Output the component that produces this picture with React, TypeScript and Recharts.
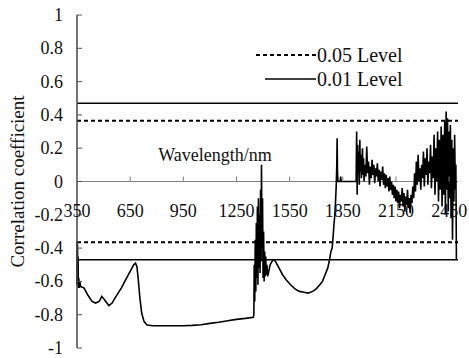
import { LineChart, Line, XAxis, YAxis, ReferenceLine, Legend, Label } from "recharts";

// wavelength (nm) and correlation coefficient
const wavelengths = [
  350, 351, 352, 353, 354, 356, 358, 360, 363, 366, 370,
  390, 410, 435, 455, 475, 490, 505, 530, 548, 570, 600, 625, 650, 670, 680, 688, 695, 705, 715, 728, 745,
  780, 850, 950, 1000, 1050, 1100, 1150, 1200, 1250, 1300, 1345,
  1348, 1350, 1353, 1356, 1359, 1362, 1365, 1368, 1371, 1374, 1377, 1380, 1383, 1386, 1389, 1391, 1394,
  1397, 1400, 1403, 1406, 1409, 1412, 1415, 1418, 1422, 1426,
  1430, 1440, 1450, 1460, 1470, 1480, 1495, 1510, 1530, 1555, 1580, 1605, 1630, 1655, 1680, 1700, 1720,
  1735, 1750, 1765, 1775, 1783, 1790, 1796, 1800, 1805, 1809, 1813, 1816, 1818, 1820, 1823, 1835, 1838,
  1841, 1925,
  1928, 1931, 1934, 1937, 1940, 1943, 1946, 1949, 1952, 1955, 1958, 1961, 1964, 1967, 1970, 1975, 1980,
  1985, 1990, 1995, 2000, 2005, 2010, 2015, 2020, 2025, 2030, 2035, 2040, 2045, 2050, 2055, 2060, 2065,
  2070, 2075, 2080, 2085, 2090, 2095, 2100, 2105, 2110, 2115, 2120, 2125, 2130, 2135, 2140, 2145, 2150,
  2155, 2160, 2165, 2170, 2175, 2180, 2185, 2190, 2195, 2200, 2205, 2210, 2215, 2220, 2225, 2230, 2235,
  2240, 2245, 2250, 2255, 2260, 2265, 2270, 2275, 2280, 2285, 2290, 2295, 2300, 2305, 2310, 2315, 2320,
  2325, 2330, 2335, 2340, 2345, 2350, 2355, 2360, 2365, 2370, 2375, 2380, 2385, 2390, 2395, 2400, 2405,
  2410, 2415, 2420, 2425, 2429, 2433, 2437, 2441, 2445, 2449, 2453, 2457, 2461, 2465, 2469, 2473, 2477,
  2481, 2485, 2488, 2491,
];

const correlation = [
  -0.62, -0.36, -0.6, -0.38, -0.62, -0.45, -0.64, -0.58, -0.64, -0.6, -0.63,
  -0.64, -0.68, -0.72, -0.73, -0.72, -0.69, -0.71, -0.745, -0.73, -0.69, -0.64, -0.59, -0.54, -0.5, -0.49,
  -0.51, -0.58, -0.7, -0.79, -0.84, -0.862,
  -0.866, -0.866, -0.866, -0.864, -0.86, -0.852, -0.845, -0.836, -0.828, -0.822, -0.815,
  -0.8, -0.5, -0.72, -0.35, -0.66, -0.25, -0.58, -0.15, -0.62, -0.1, -0.52, -0.2, -0.55, -0.05, -0.48, 0.1,
  -0.4, -0.1, -0.58, -0.3, -0.6, -0.42, -0.57, -0.45, -0.56, -0.5, -0.57,
  -0.55, -0.5, -0.48, -0.47, -0.48, -0.5, -0.53, -0.56, -0.59, -0.62, -0.645, -0.66, -0.665, -0.67, -0.66,
  -0.645, -0.62, -0.6, -0.56, -0.52, -0.47, -0.42, -0.4, -0.32, -0.26, -0.2, -0.12, -0.02, 0.1, 0.26, 0.05,
  0, 0, 0.03, 0, 0,
  0.3, -0.08, 0.22, 0.05, 0.18, -0.02, 0.25, 0.06, 0.16, 0.02, 0.12, 0.2, 0.04, 0.14, 0, 0.1, 0.03,
  0.21, 0.05, 0.12, -0.02, 0.09, 0.02, 0.13, 0.04, 0.1, -0.01, 0.08, 0.03, 0.11, 0, 0.07, -0.03, 0.06,
  0.01, 0.09, -0.02, 0.05, -0.04, 0.04, -0.03, 0.02, -0.06, 0.03, -0.05, 0, -0.08, -0.02, -0.1, -0.03, -0.12,
  -0.05, -0.13, -0.06, -0.16, -0.08, -0.12, -0.04, -0.15, -0.07, -0.18, -0.09, -0.14, -0.05, -0.16, -0.1, -0.19, -0.08,
  -0.13, -0.03, -0.1, 0.05, -0.06, 0.12, -0.02, 0.16, 0, 0.08, -0.05, 0.1, 0.02, 0.18, -0.03, 0.14, 0.04,
  0.2, -0.02, 0.12, 0.05, 0.22, -0.04, 0.15, 0.02, 0.28, -0.08, 0.2, 0, 0.3, -0.12, 0.25, -0.05, 0.33,
  -0.15, 0.28, -0.08, 0.36, -0.2, 0.42, -0.05, 0.38, -0.18, 0.3, -0.1, 0.34, -0.22, 0.25, -0.35, 0.2, -0.12,
  0.28, -0.05, 0.1, -0.47,
];

const xTicks = [350, 650, 950, 1250, 1550, 1850, 2150, 2450];
const yTicks = [-1, -0.8, -0.6, -0.4, -0.2, 0, 0.2, 0.4, 0.6, 0.8, 1];
const level05 = 0.365;
const level01 = 0.47;
const legendItems = [
  { name: "0.05 Level", dashed: true },
  { name: "0.01 Level", dashed: false },
];

const data = wavelengths.map((w, i) => ({ wavelength: w, r: correlation[i] }));

const W = 469;
const H = 358;
const MARGIN = { top: 15, right: 11, bottom: 9, left: 0 };
const X_AXIS_H = 1;
const Y_AXIS_W = 77;
const PLOT_LEFT = MARGIN.left + Y_AXIS_W;
const PLOT_H = H - MARGIN.top - MARGIN.bottom - X_AXIS_H;
const ZERO_Y = MARGIN.top + PLOT_H / 2;
const FONT = "'Liberation Serif', 'Times New Roman', serif";
const INK = "#111";
const textStyle = (size: number) => ({ fontFamily: FONT, fontSize: size, fill: INK });

function XTick(props: any) {
  const { x, payload } = props;
  return (
    <g>
      <line x1={x} x2={x} y1={ZERO_Y} y2={ZERO_Y - 5} stroke="#808080" />
      <text x={x} y={ZERO_Y + 35} textAnchor="middle" style={textStyle(18)}>
        {payload.value}
      </text>
    </g>
  );
}

function YTick(props: any) {
  const { y, payload } = props;
  return (
    <g>
      <line x1={PLOT_LEFT} x2={PLOT_LEFT + 5} y1={y} y2={y} stroke="#555" />
      <text x={PLOT_LEFT - 14} y={y + 6} textAnchor="end" style={textStyle(18)}>
        {String(Number(payload.value.toFixed(1)))}
      </text>
    </g>
  );
}

function LevelLegend() {
  return (
    <svg width={170} height={50}>
      {legendItems.map((item, i) => (
        <g key={item.name}>
          <line
            x1={item.dashed ? 6 : 15}
            x2={66}
            y1={13 + i * 24}
            y2={13 + i * 24}
            stroke="#000"
            strokeWidth={item.dashed ? 2 : 1.5}
            strokeDasharray={item.dashed ? "4 3" : undefined}
          />
          <text x={67} y={20 + i * 24} style={textStyle(20)}>
            {item.name}
          </text>
        </g>
      ))}
    </svg>
  );
}

export default function App() {
  return (
    <div style={{ position: "absolute", left: 0, top: 0, width: W, height: H, background: "#fff" }}>
      <LineChart width={W} height={H} data={data} margin={MARGIN}>
        <XAxis
          dataKey="wavelength"
          type="number"
          domain={[350, 2500]}
          ticks={xTicks}
          height={X_AXIS_H}
          axisLine={false}
          tickLine={false}
          tick={XTick}
          interval={0}
        />
        <YAxis
          type="number"
          domain={[-1, 1]}
          ticks={yTicks}
          width={Y_AXIS_W}
          axisLine={{ stroke: "#444", strokeWidth: 1.5 }}
          tickLine={false}
          tick={YTick}
          interval={0}
        >
          <Label
            content={() => (
              <text
                x={24}
                y={ZERO_Y}
                transform={`rotate(-90 24 ${ZERO_Y})`}
                textAnchor="middle"
                style={textStyle(19)}
              >
                Correlation coefficient
              </text>
            )}
          />
        </YAxis>
        <ReferenceLine y={0} stroke="#808080" strokeWidth={1}>
          <Label
            content={() => (
              <text x={PLOT_LEFT + 138} y={ZERO_Y - 21} textAnchor="middle" style={textStyle(18)}>
                Wavelength/nm
              </text>
            )}
          />
        </ReferenceLine>
        <ReferenceLine y={level01} stroke="#000" strokeWidth={1.5} />
        <ReferenceLine y={-level01} stroke="#000" strokeWidth={1.5} />
        <ReferenceLine y={level05} stroke="#000" strokeWidth={2} strokeDasharray="4 3" />
        <ReferenceLine y={-level05} stroke="#000" strokeWidth={2} strokeDasharray="4 3" />
        <Legend
          layout="vertical"
          align="center"
          verticalAlign="middle"
          wrapperStyle={{ left: 250, top: 42, width: 170 }}
          content={<LevelLegend />}
        />
        <Line
          type="linear"
          dataKey="r"
          stroke="#000"
          strokeWidth={1.6}
          dot={false}
          isAnimationActive={false}
        />
      </LineChart>
    </div>
  );
}
